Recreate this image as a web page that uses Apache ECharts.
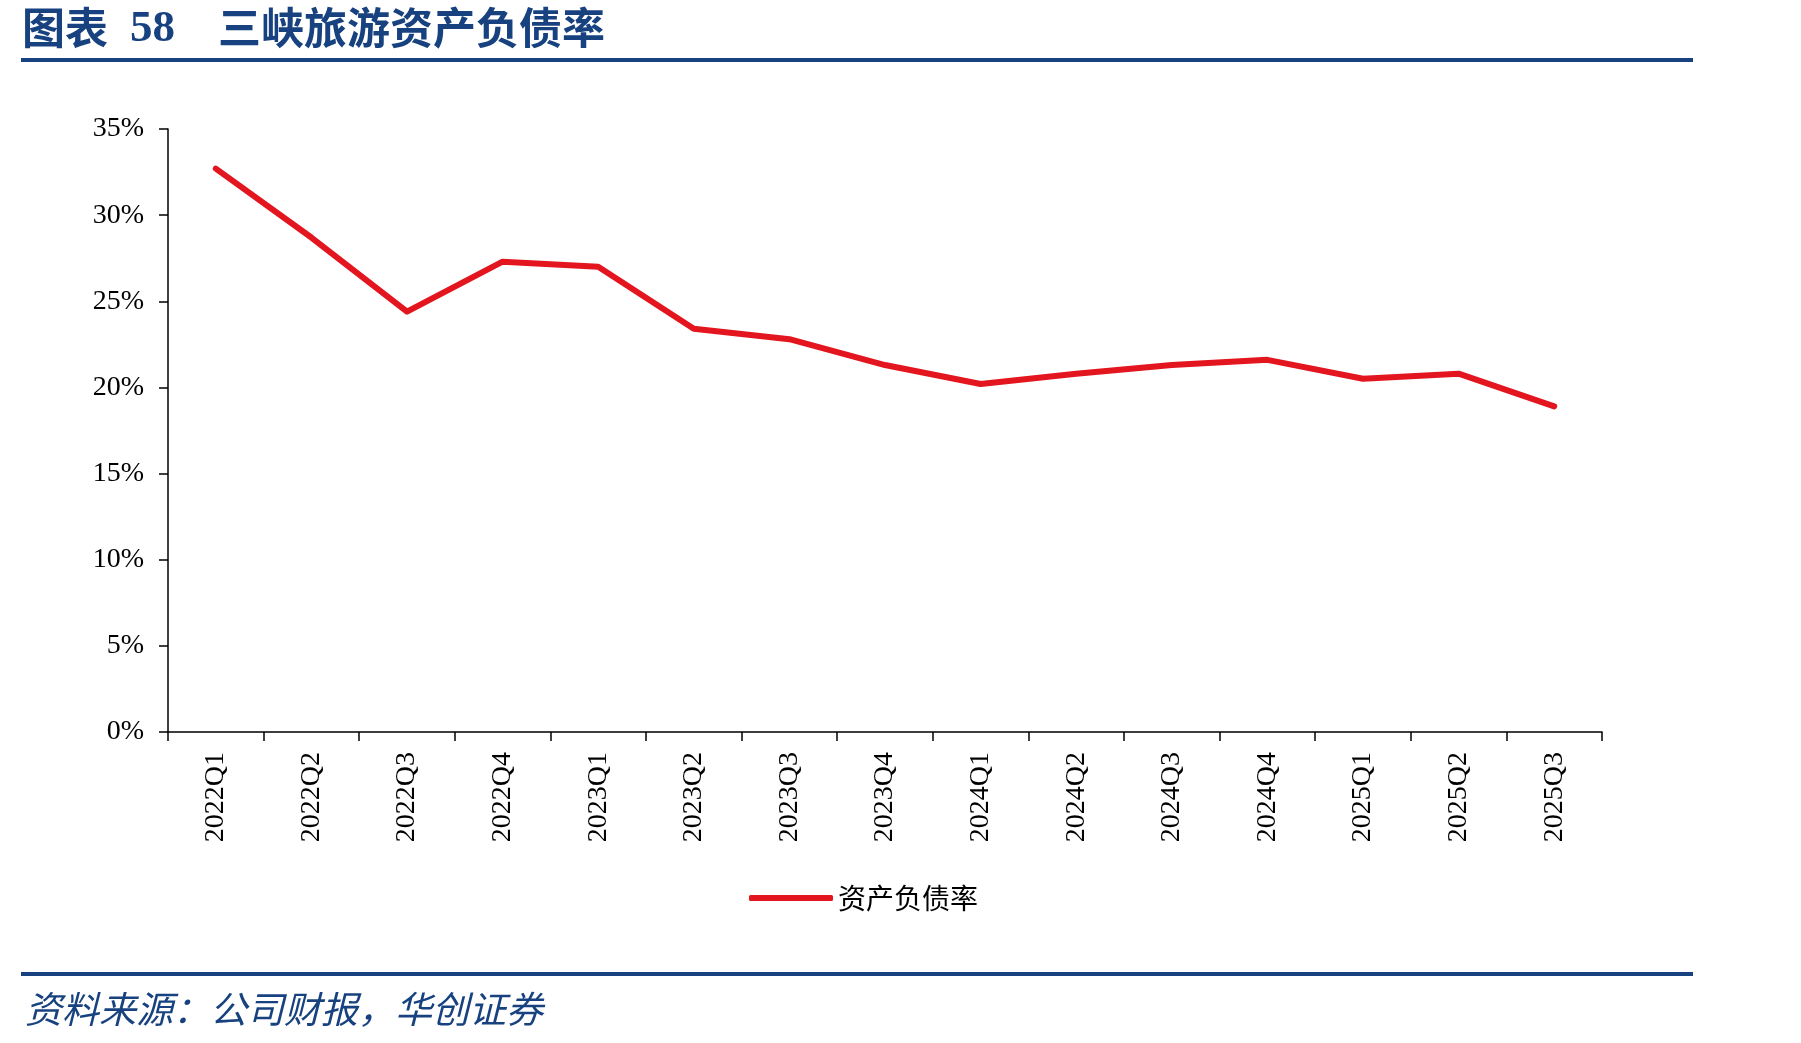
<!DOCTYPE html>
<html>
<head>
<meta charset="utf-8">
<script src="https://cdn.jsdelivr.net/npm/echarts@6/dist/echarts.min.js"></script>
<style>
  html, body { margin: 0; padding: 0; background: #fff; }
  #chart { width: 1801px; height: 1043px; }
</style>
</head>
<body>
<div id="chart"></div>
<script>
var categories = ['2022Q1', '2022Q2', '2022Q3', '2022Q4', '2023Q1', '2023Q2', '2023Q3', '2023Q4',
  '2024Q1', '2024Q2', '2024Q3', '2024Q4', '2025Q1', '2025Q2', '2025Q3'];
var debtRatio = [32.7, 28.7, 24.4, 27.3, 27.0, 23.4, 22.8, 21.3, 20.2, 20.8, 21.3, 21.6, 20.5, 20.8, 18.9];
var seriesName = '资产负债率';
var titleText = '三峡旅游资产负债率';
var sourceText = '资料来源：公司财报，华创证券';

var blue = '#17427F';
var red = '#E3161F';
var serif = '"Liberation Serif", "Times New Roman", serif';
var cjk = '"Noto Sans CJK SC", sans-serif';

var chart = echarts.init(document.getElementById('chart'));
var option = {
  animation: false,
  backgroundColor: '#fff',
  grid: { left: 168, right: 199, top: 129, bottom: 311 },
  graphic: [
    { type: 'text', left: 22, top: 6, style: { text: '图表', font: 'bold 43px ' + cjk, fill: blue } },
    { type: 'text', left: 130, top: 7, style: { text: '58', font: 'bold 45px ' + serif, fill: blue } },
    { type: 'text', left: 218, top: 6, style: { text: titleText, font: 'bold 43px ' + cjk, fill: blue } },
    { type: 'rect', shape: { x: 21, y: 58, width: 1672, height: 4 }, style: { fill: blue } },
    { type: 'rect', shape: { x: 21, y: 972, width: 1672, height: 4 }, style: { fill: blue } },
    { type: 'text', left: 25, top: 990, style: { text: sourceText, font: 'italic 37px ' + cjk, fill: blue } }
  ],
  legend: {
    bottom: 126,
    left: 744,
    icon: 'roundRect',
    itemWidth: 84,
    itemHeight: 6,
    itemGap: 10,
    textStyle: { fontFamily: cjk, fontSize: 28, color: '#000' },
    data: [seriesName]
  },
  xAxis: {
    type: 'category',
    data: categories,
    boundaryGap: true,
    axisLine: { lineStyle: { color: '#000', width: 1.5 } },
    axisTick: { show: true, inside: false, length: 9, alignWithLabel: false, lineStyle: { color: '#000', width: 1.5 } },
    axisLabel: { rotate: 90, margin: 20, interval: 0, fontFamily: serif, fontSize: 28, color: '#000' },
    splitLine: { show: false }
  },
  yAxis: {
    type: 'value',
    min: 0,
    max: 35,
    interval: 5,
    axisLine: { show: true, lineStyle: { color: '#000', width: 1.5 } },
    axisTick: { show: true, length: 9, lineStyle: { color: '#000', width: 1.5 } },
    axisLabel: { formatter: '{value}%', margin: 24, fontFamily: serif, fontSize: 28, color: '#000' },
    splitLine: { show: false }
  },
  series: [{
    name: seriesName,
    type: 'line',
    data: debtRatio,
    symbol: 'none',
    color: red,
    lineStyle: { color: red, width: 6, cap: 'round', join: 'round' }
  }]
};
chart.setOption(option);
</script>
</body>
</html>
